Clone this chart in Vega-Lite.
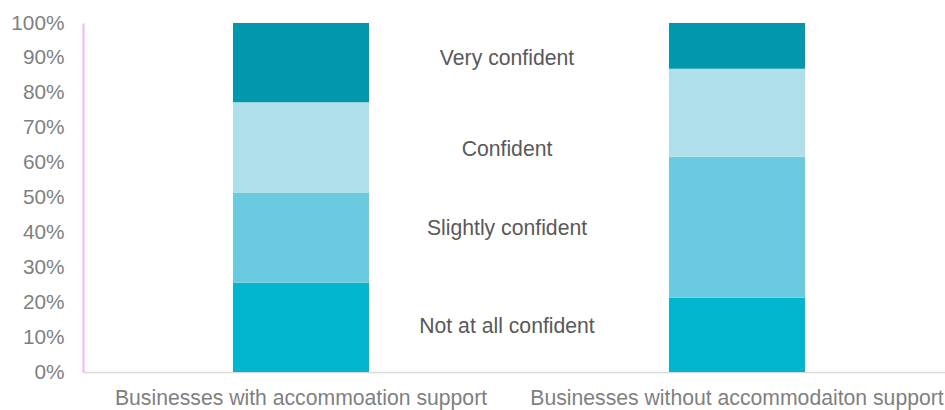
{
  "$schema": "https://vega.github.io/schema/vega-lite/v6.json",
  "width": 862,
  "height": 349,
  "autosize": {"type": "none"},
  "padding": {"left": 83, "top": 23, "right": 0, "bottom": 38},
  "background": "white",
  "config": {
    "view": {"stroke": null},
    "font": "Liberation Sans",
    "axisY": {
      "grid": false, "ticks": false, "domainColor": "#F7B2F0", "domainWidth": 2,
      "labelFontSize": 20.8, "labelColor": "#7F7F7F", "labelPadding": 19,
      "labelOverlap": false, "labelBound": false, "title": null
    }
  },
  "layer": [
    {
      "data": {
        "values": [
          {"group": "Businesses with accommoation support", "level": "Not at all confident", "ord": 1, "share": 0.256},
          {"group": "Businesses with accommoation support", "level": "Slightly confident", "ord": 2, "share": 0.258},
          {"group": "Businesses with accommoation support", "level": "Confident", "ord": 3, "share": 0.259},
          {"group": "Businesses with accommoation support", "level": "Very confident", "ord": 4, "share": 0.227},
          {"group": "Businesses without accommodaiton support", "level": "Not at all confident", "ord": 1, "share": 0.213},
          {"group": "Businesses without accommodaiton support", "level": "Slightly confident", "ord": 2, "share": 0.404},
          {"group": "Businesses without accommodaiton support", "level": "Confident", "ord": 3, "share": 0.252},
          {"group": "Businesses without accommodaiton support", "level": "Very confident", "ord": 4, "share": 0.131}
        ]
      },
      "mark": {"type": "bar", "width": 136},
      "encoding": {
        "x": {
          "field": "group", "type": "nominal", "sort": null,
          "scale": {"range": [0, 872], "paddingInner": 0, "paddingOuter": 0},
          "axis": {
            "title": null, "labelAngle": 0, "ticks": false,
            "domainColor": "#D9D9D9", "domainWidth": 1.5,
            "labelFontSize": 21.2, "labelColor": "#7F7F7F", "labelPadding": 15,
            "labelLimit": 600, "labelOverlap": false
          }
        },
        "y": {
          "field": "share", "type": "quantitative", "stack": "zero",
          "scale": {"domain": [0, 1], "nice": false},
          "axis": {"format": ".0%", "values": [0, 0.1, 0.2, 0.3, 0.4, 0.5, 0.6, 0.7, 0.8, 0.9, 1]}
        },
        "color": {
          "field": "level", "type": "nominal",
          "scale": {
            "domain": ["Not at all confident", "Slightly confident", "Confident", "Very confident"],
            "range": ["#02B5CE", "#6ACBE0", "#B0DFEC", "#0397AD"]
          },
          "legend": null
        },
        "order": {"field": "ord", "type": "quantitative"}
      }
    },
    {
      "data": {
        "values": [
          {"label": "Very confident", "pos": 0.898},
          {"label": "Confident", "pos": 0.637},
          {"label": "Slightly confident", "pos": 0.41},
          {"label": "Not at all confident", "pos": 0.13}
        ]
      },
      "mark": {"type": "text", "fontSize": 21.2, "color": "#595959", "dx": 206, "align": "center", "baseline": "middle"},
      "encoding": {
        "x": {"datum": "Businesses with accommoation support", "type": "nominal"},
        "y": {
          "field": "pos", "type": "quantitative",
          "axis": {"format": ".0%", "values": [0, 0.1, 0.2, 0.3, 0.4, 0.5, 0.6, 0.7, 0.8, 0.9, 1]}
        },
        "text": {"field": "label"}
      }
    }
  ]
}
